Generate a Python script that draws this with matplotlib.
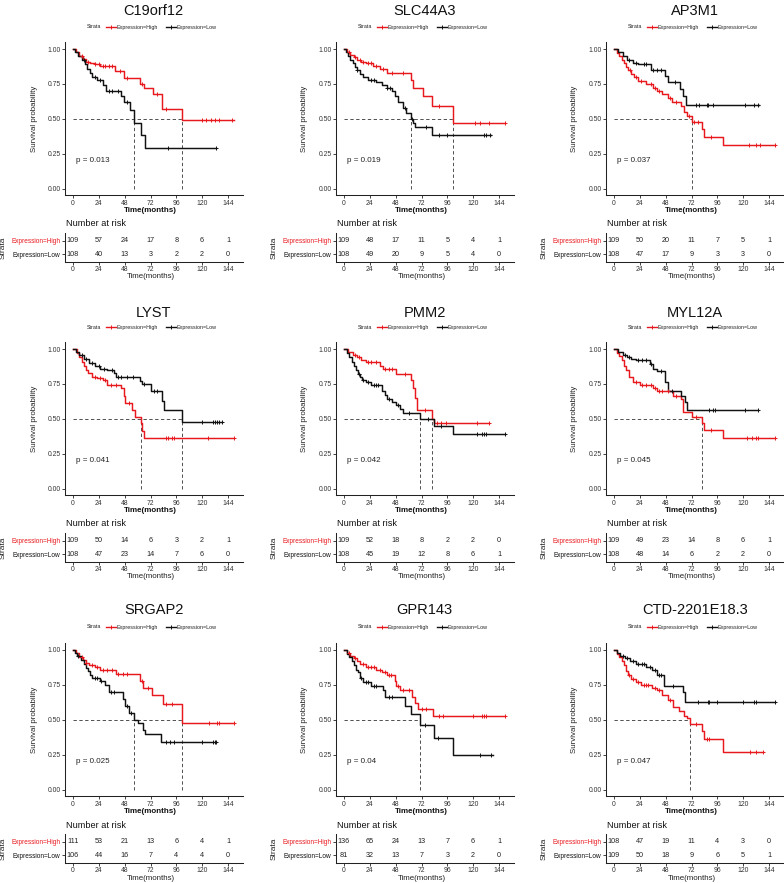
import numpy as np
import matplotlib
matplotlib.use('Agg')
import matplotlib.pyplot as plt
from matplotlib.lines import Line2D

plt.rcParams['font.family'] = ['Liberation Sans', 'DejaVu Sans']

# ---------------- data ----------------
genes = ['C19orf12', 'SLC44A3', 'AP3M1', 'LYST', 'PMM2', 'MYL12A',
         'SRGAP2', 'GPR143', 'CTD-2201E18.3']
pvals = ['0.013', '0.019', '0.037', '0.041', '0.042', '0.045', '0.025', '0.04', '0.047']
risk_times = [0, 24, 48, 72, 96, 120, 144]
strata = ['Expression=High', 'Expression=Low']

# C19orf12
c19_high_t = [3, 6, 9, 12, 16, 20, 25, 39, 47, 62, 66, 74, 83, 101]
c19_high_s = [0.98, 0.95, 0.93, 0.91, 0.90, 0.89, 0.88, 0.84, 0.79, 0.75, 0.72, 0.68, 0.57, 0.49]
c19_high_end = 150
c19_high_c = [8, 14, 20, 24, 28, 30, 33, 36, 44, 50, 64, 78, 86, 120, 124, 128, 132, 136, 148]
c19_low_t = [2, 5, 8, 11, 13, 16, 18, 22, 28, 31, 45, 47, 53, 57, 63, 67]
c19_low_s = [0.98, 0.95, 0.92, 0.89, 0.86, 0.83, 0.80, 0.78, 0.74, 0.70, 0.66, 0.62, 0.56, 0.47, 0.38, 0.29]
c19_low_end = 133
c19_low_c = [10, 20, 25, 33, 36, 42, 50, 88, 133]
c19_risk_high = [109, 57, 24, 17, 8, 6, 1]
c19_risk_low = [108, 40, 13, 3, 2, 2, 0]
c19_medians = [101, 57]

# SLC44A3
slc_high_t = [3, 6, 9, 12, 16, 20, 27, 33, 40, 62, 64, 73, 82, 101]
slc_high_s = [0.98, 0.96, 0.94, 0.92, 0.91, 0.90, 0.88, 0.86, 0.83, 0.78, 0.72, 0.66, 0.59, 0.47]
slc_high_end = 150
slc_high_c = [5, 10, 15, 18, 22, 25, 30, 36, 45, 55, 88, 122, 126, 135, 150]
slc_low_t = [2, 4, 6, 8, 10, 12, 15, 18, 22, 30, 35, 40, 45, 47, 50, 55, 58, 62, 64, 66, 82]
slc_low_s = [0.98, 0.95, 0.92, 0.90, 0.87, 0.85, 0.82, 0.80, 0.78, 0.76, 0.74, 0.72, 0.70, 0.66,
             0.62, 0.58, 0.54, 0.50, 0.47, 0.44, 0.38]
slc_low_end = 137
slc_low_c = [12, 25, 28, 40, 43, 57, 63, 76, 88, 96, 130, 132, 136]
slc_risk_high = [109, 48, 17, 11, 5, 4, 1]
slc_risk_low = [108, 49, 20, 9, 5, 4, 0]
slc_medians = [101, 62]

# AP3M1
ap3_high_t = [3, 5, 7, 9, 11, 13, 16, 19, 22, 30, 36, 40, 45, 50, 54, 62, 65, 68, 72, 82, 84, 101]
ap3_high_s = [0.97, 0.95, 0.92, 0.90, 0.87, 0.85, 0.82, 0.80, 0.77, 0.75, 0.72, 0.70, 0.68, 0.65,
              0.62, 0.59, 0.55, 0.52, 0.48, 0.43, 0.37, 0.31]
ap3_high_end = 150
ap3_high_c = [15, 20, 25, 34, 38, 42, 52, 58, 70, 74, 78, 90, 125, 132, 136, 150]
ap3_low_t = [4, 8, 12, 18, 22, 34, 47, 50, 61, 64, 67]
ap3_low_s = [0.98, 0.95, 0.92, 0.90, 0.89, 0.85, 0.81, 0.76, 0.71, 0.66, 0.60]
ap3_low_end = 135
ap3_low_c = [14, 20, 28, 30, 36, 40, 44, 57, 76, 79, 86, 87, 92, 122, 130, 134]
ap3_risk_high = [109, 50, 20, 11, 7, 5, 1]
ap3_risk_low = [108, 47, 17, 9, 3, 3, 0]
ap3_medians = [72]

# LYST
lyst_high_t = [4, 6, 8, 10, 12, 14, 18, 22, 28, 32, 45, 47, 48, 55, 58, 63, 64, 66]
lyst_high_s = [0.97, 0.94, 0.91, 0.88, 0.85, 0.83, 0.80, 0.79, 0.78, 0.74, 0.72, 0.66, 0.61,
               0.56, 0.51, 0.47, 0.41, 0.36]
lyst_high_end = 150
lyst_high_c = [20, 25, 30, 35, 40, 52, 86, 88, 92, 94, 125, 150]
lyst_low_t = [3, 6, 10, 15, 20, 25, 32, 38, 40, 62, 64, 72, 83, 85, 101]
lyst_low_s = [0.98, 0.96, 0.93, 0.90, 0.88, 0.86, 0.85, 0.83, 0.80, 0.77, 0.75, 0.70, 0.63, 0.56, 0.48]
lyst_low_end = 138
lyst_low_c = [8, 12, 18, 24, 29, 36, 42, 45, 50, 56, 66, 75, 78, 120, 130, 132, 134, 136, 138]
lyst_risk_high = [109, 50, 14, 6, 3, 2, 1]
lyst_risk_low = [108, 47, 23, 14, 7, 6, 0]
lyst_medians = [63, 101]

# PMM2
pmm_high_t = [4, 8, 12, 16, 20, 33, 36, 48, 62, 64, 66, 68, 82, 84]
pmm_high_s = [0.98, 0.96, 0.94, 0.92, 0.91, 0.88, 0.86, 0.82, 0.78, 0.72, 0.65, 0.56, 0.50, 0.47]
pmm_high_end = 135
pmm_high_c = [10, 14, 22, 25, 30, 38, 42, 45, 57, 75, 86, 90, 95, 124, 135]
pmm_low_t = [3, 5, 7, 9, 11, 13, 15, 17, 20, 25, 35, 38, 40, 45, 48, 52, 55, 71, 84, 101]
pmm_low_s = [0.97, 0.94, 0.91, 0.88, 0.85, 0.82, 0.80, 0.78, 0.76, 0.74, 0.70, 0.67, 0.64, 0.62,
             0.60, 0.57, 0.54, 0.50, 0.45, 0.39]
pmm_low_end = 150
pmm_low_c = [14, 18, 22, 28, 30, 32, 42, 50, 60, 78, 90, 124, 128, 130, 132, 150]
pmm_risk_high = [109, 52, 18, 8, 2, 2, 0]
pmm_risk_low = [108, 45, 19, 12, 8, 6, 1]
pmm_medians = [82, 71]

# MYL12A
myl_high_t = [3, 5, 7, 9, 11, 14, 18, 24, 36, 40, 55, 62, 64, 72, 82, 84, 101]
myl_high_s = [0.97, 0.95, 0.92, 0.88, 0.85, 0.80, 0.76, 0.74, 0.72, 0.70, 0.66, 0.64, 0.55,
              0.51, 0.47, 0.42, 0.36]
myl_high_end = 150
myl_high_c = [20, 26, 30, 34, 38, 42, 45, 50, 58, 76, 90, 124, 128, 132, 134, 150]
myl_low_t = [4, 8, 12, 16, 20, 33, 36, 40, 47, 50, 62, 66, 68]
myl_low_s = [0.98, 0.96, 0.94, 0.93, 0.92, 0.89, 0.86, 0.84, 0.76, 0.70, 0.66, 0.62, 0.56]
myl_low_end = 134
myl_low_c = [10, 14, 22, 26, 30, 34, 44, 54, 88, 92, 94, 122, 134]
myl_risk_high = [109, 49, 23, 14, 8, 6, 1]
myl_risk_low = [108, 48, 14, 6, 2, 2, 0]
myl_medians = [82]

# SRGAP2
srg_high_t = [3, 6, 9, 12, 15, 20, 25, 40, 62, 65, 73, 84, 101]
srg_high_s = [0.98, 0.95, 0.93, 0.91, 0.89, 0.88, 0.86, 0.83, 0.78, 0.73, 0.68, 0.61, 0.48]
srg_high_end = 150
srg_high_c = [8, 12, 18, 22, 28, 32, 36, 42, 46, 50, 64, 70, 86, 92, 126, 134, 136, 150]
srg_low_t = [2, 4, 7, 10, 12, 14, 16, 18, 25, 30, 33, 46, 48, 52, 57, 60, 65, 67, 82]
srg_low_s = [0.98, 0.96, 0.93, 0.90, 0.87, 0.85, 0.82, 0.80, 0.78, 0.75, 0.70, 0.65, 0.60,
             0.55, 0.50, 0.48, 0.43, 0.40, 0.34]
srg_low_end = 133
srg_low_c = [5, 20, 22, 26, 35, 38, 50, 54, 86, 90, 94, 120, 130, 132, 133]
srg_risk_high = [111, 53, 21, 13, 6, 4, 1]
srg_risk_low = [106, 44, 16, 7, 4, 4, 0]
srg_medians = [101, 57]

# GPR143
gpr_high_t = [3, 6, 9, 12, 15, 20, 30, 35, 40, 47, 48, 52, 63, 66, 69, 83]
gpr_high_s = [0.98, 0.96, 0.94, 0.92, 0.90, 0.88, 0.86, 0.84, 0.82, 0.78, 0.74, 0.71, 0.66,
              0.62, 0.58, 0.53]
gpr_high_end = 150
gpr_high_c = [5, 10, 18, 22, 25, 28, 33, 38, 42, 44, 50, 55, 60, 72, 76, 88, 92, 120, 128, 130, 132, 150]
gpr_low_t = [3, 5, 7, 9, 11, 13, 15, 18, 25, 36, 38, 57, 62, 71, 84, 101]
gpr_low_s = [0.97, 0.95, 0.92, 0.89, 0.86, 0.84, 0.80, 0.77, 0.74, 0.71, 0.66, 0.60, 0.54,
             0.46, 0.37, 0.25]
gpr_low_end = 138
gpr_low_c = [16, 20, 22, 28, 30, 42, 45, 75, 87, 126, 137]
gpr_risk_high = [136, 65, 24, 13, 7, 6, 1]
gpr_risk_low = [81, 32, 13, 7, 3, 2, 0]
gpr_medians = [71]

# CTD-2201E18.3
ctd_high_t = [3, 5, 7, 9, 11, 13, 16, 20, 25, 35, 40, 45, 50, 55, 60, 65, 68, 71, 82, 84, 101]
ctd_high_s = [0.97, 0.95, 0.92, 0.89, 0.85, 0.82, 0.79, 0.77, 0.75, 0.73, 0.71, 0.68, 0.64,
              0.59, 0.56, 0.53, 0.51, 0.47, 0.42, 0.36, 0.27]
ctd_high_end = 138
ctd_high_c = [14, 18, 22, 28, 30, 32, 38, 42, 52, 76, 86, 88, 126, 132, 138]
ctd_low_t = [3, 6, 10, 15, 20, 30, 35, 40, 46, 64, 66]
ctd_low_s = [0.98, 0.96, 0.94, 0.92, 0.90, 0.88, 0.86, 0.82, 0.74, 0.70, 0.63]
ctd_low_end = 150
ctd_low_c = [8, 12, 18, 22, 26, 28, 33, 38, 42, 44, 55, 78, 87, 88, 96, 120, 130, 132, 150]
ctd_risk_high = [108, 47, 19, 11, 4, 3, 0]
ctd_risk_low = [109, 50, 18, 9, 6, 5, 1]
ctd_medians = [71]

panels = [
    (c19_high_t, c19_high_s, c19_high_end, c19_high_c, c19_low_t, c19_low_s, c19_low_end, c19_low_c, c19_risk_high, c19_risk_low, c19_medians),
    (slc_high_t, slc_high_s, slc_high_end, slc_high_c, slc_low_t, slc_low_s, slc_low_end, slc_low_c, slc_risk_high, slc_risk_low, slc_medians),
    (ap3_high_t, ap3_high_s, ap3_high_end, ap3_high_c, ap3_low_t, ap3_low_s, ap3_low_end, ap3_low_c, ap3_risk_high, ap3_risk_low, ap3_medians),
    (lyst_high_t, lyst_high_s, lyst_high_end, lyst_high_c, lyst_low_t, lyst_low_s, lyst_low_end, lyst_low_c, lyst_risk_high, lyst_risk_low, lyst_medians),
    (pmm_high_t, pmm_high_s, pmm_high_end, pmm_high_c, pmm_low_t, pmm_low_s, pmm_low_end, pmm_low_c, pmm_risk_high, pmm_risk_low, pmm_medians),
    (myl_high_t, myl_high_s, myl_high_end, myl_high_c, myl_low_t, myl_low_s, myl_low_end, myl_low_c, myl_risk_high, myl_risk_low, myl_medians),
    (srg_high_t, srg_high_s, srg_high_end, srg_high_c, srg_low_t, srg_low_s, srg_low_end, srg_low_c, srg_risk_high, srg_risk_low, srg_medians),
    (gpr_high_t, gpr_high_s, gpr_high_end, gpr_high_c, gpr_low_t, gpr_low_s, gpr_low_end, gpr_low_c, gpr_risk_high, gpr_risk_low, gpr_medians),
    (ctd_high_t, ctd_high_s, ctd_high_end, ctd_high_c, ctd_low_t, ctd_low_s, ctd_low_end, ctd_low_c, ctd_risk_high, ctd_risk_low, ctd_medians),
]

# ---------------- layout ----------------
W, H = 784, 883
RED = '#E8191E'
BLACK = '#111111'
fig = plt.figure(figsize=(W / 100, H / 100), dpi=100)
fig.patch.set_facecolor('white')

COL_X0 = [73, 344, 614]        # pixel of t = 0
ROW_Y1 = [49, 349, 650]        # pixel of S = 1
TAB_TOP = [233, 533, 834]
TITLE_Y = [11, 313, 610]
LEG_Y = [27, 327, 627]
NAR_Y = [224, 524, 825]
PPM = 155 / 144
PPU = 139.5
TAB_H = 29


def fx(px):
    return px / W


def fy(py):
    return 1 - py / H


def step_arrays(t, s, end):
    tt = np.array([0] + list(t) + [end], dtype=float)
    ss = np.array([1.0] + list(s) + [s[-1]], dtype=float)
    return tt, ss


def style_axis(ax):
    for sp in ['top', 'right']:
        ax.spines[sp].set_visible(False)
    for sp in ['left', 'bottom']:
        ax.spines[sp].set_linewidth(0.75)
        ax.spines[sp].set_color('#222222')
    ax.tick_params(length=2, width=0.6, pad=1.2, labelsize=4.9, colors='#222222',
                   labelcolor='#333333')


for i, (ht, hs, hend, hc, lt, ls, lend, lc, rh, rl, meds) in enumerate(panels):
    r, c = divmod(i, 3)
    x0 = COL_X0[c]
    y1 = ROW_Y1[r]
    left = x0 - 7.5 * PPM
    width = 165 * PPM
    top = y1 - 0.05 * PPU
    height = 1.1 * PPU
    ax = fig.add_axes([fx(left), fy(top + height), width / W, height / H])
    ax.set_xlim(-7.5, 157.5)
    ax.set_ylim(-0.05, 1.05)
    ax.set_facecolor('white')
    style_axis(ax)
    ax.set_xticks(risk_times)
    ax.set_yticks([0, 0.25, 0.5, 0.75, 1.0])
    ax.set_yticklabels(['0.00', '0.25', '0.50', '0.75', '1.00'])

    # median lines
    mmax = max(meds)
    ax.plot([0, mmax], [0.5, 0.5], color='#333333', lw=0.6, ls=(0, (4, 3)), zorder=1)
    for m in meds:
        ax.plot([m, m], [0, 0.5], color='#333333', lw=0.6, ls=(0, (4, 3)), zorder=1)

    for (t, s, end, cens, col) in [(ht, hs, hend, hc, RED), (lt, ls, lend, lc, BLACK)]:
        tt, ss = step_arrays(t, s, end)
        ax.step(tt, ss, where='post', color=col, lw=1.05, zorder=3)
        cens = np.array(cens, dtype=float)
        idx = np.searchsorted(tt, cens, side='right') - 1
        ax.plot(cens, ss[idx], ls='none', marker='+', ms=3.5, mew=0.7, color=col, zorder=4)

    ax.text(3, 0.2, 'p = ' + pvals[i], fontsize=5.8, ha='left', va='center', color='#222222')

    xc = x0 + 75 * PPM
    # title
    fig.text(fx(xc), fy(TITLE_Y[r]), genes[i], fontsize=10.5, ha='center', va='center', color='#111111')
    # axis labels
    fig.text(fx(x0 + 72 * PPM), fy(y1 + PPU + 22), 'Time(months)', fontsize=5.8, fontweight='bold',
             ha='center', va='center', color='#111111')
    fig.text(fx(x0 - 39), fy(y1 + 0.5 * PPU), 'Survival probability', fontsize=5.7, rotation=90,
             ha='center', va='center', color='#222222')

    # legend
    ly = fy(LEG_Y[r])
    fig.text(fx(xc - 66.5), ly, 'Strata', fontsize=3.9, ha='left', va='center', color='#222222')
    for (cx, col, lab, tx) in [(xc - 43, RED, strata[0], xc - 37), (xc + 17, BLACK, strata[1], xc + 23)]:
        fig.add_artist(Line2D([fx(cx - 5), fx(cx + 5)], [ly, ly], transform=fig.transFigure,
                              color=col, lw=1.0))
        fig.add_artist(Line2D([fx(cx)], [ly], transform=fig.transFigure, color=col,
                              marker='+', ms=3.5, mew=0.7, ls='none'))
        fig.text(fx(tx), ly, lab, fontsize=3.9, ha='left', va='center', color='#222222')

    # risk table
    tab = fig.add_axes([fx(left), fy(TAB_TOP[r] + TAB_H), width / W, TAB_H / H])
    tab.set_xlim(-7.5, 157.5)
    tab.set_ylim(0.4, 2.6)
    style_axis(tab)
    tab.set_xticks(risk_times)
    tab.set_yticks([2, 1])
    tab.set_yticklabels(strata, fontsize=4.7)
    tab.get_yticklabels()[0].set_color(RED)
    tab.get_yticklabels()[1].set_color('#111111')
    for t, nh, nl in zip(risk_times, rh, rl):
        tab.text(t, 2, str(nh), fontsize=5.2, ha='center', va='center', color='#222222')
        tab.text(t, 1, str(nl), fontsize=5.2, ha='center', va='center', color='#222222')
    fig.text(fx(left + 1), fy(NAR_Y[r]), 'Number at risk', fontsize=6.6, ha='left', va='center',
             color='#111111')
    fig.text(fx(x0 + 72 * PPM), fy(TAB_TOP[r] + TAB_H + 15), 'Time(months)', fontsize=5.7,
             ha='center', va='center', color='#222222')
    fig.text(fx(x0 - 70), fy(TAB_TOP[r] + 15), 'Strata', fontsize=6, rotation=90,
             ha='center', va='center', color='#222222')

fig.savefig('out.png', dpi=100, facecolor='white')
